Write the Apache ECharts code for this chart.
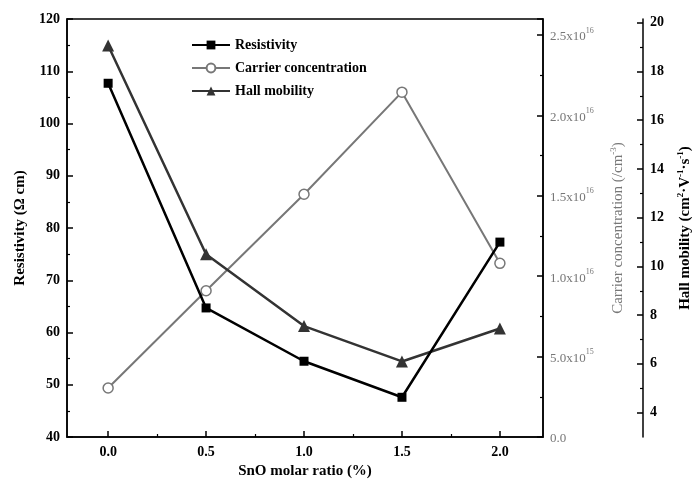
<!DOCTYPE html>
<html>
<head>
<meta charset="utf-8">
<script src="https://cdn.jsdelivr.net/npm/echarts@6/dist/echarts.min.js"></script>
<style>
  html, body { margin: 0; padding: 0; background: #fff; }
  #main { width: 694px; height: 482px; }
</style>
</head>
<body>
<div id="main"></div>
<script>
// SnO molar ratio (%) on x
const ratios = [0, 0.5, 1.0, 1.5, 2.0];
// Resistivity (Ω cm)
const resistivity = [107.7, 64.7, 54.5, 47.6, 77.3];
// Carrier concentration (/cm^3)
const carrier = [3.05e15, 9.1e15, 1.51e16, 2.145e16, 1.08e16];
// Hall mobility (cm2/V/s)
const mobility = [19.06, 10.5, 7.55, 6.1, 7.45];

const xLabels = [0, 0.5, 1.0, 1.5, 2.0];
const xMinor = [0.25, 0.75, 1.25, 1.75];
const hallLabels = [4, 6, 8, 10, 12, 14, 16, 18, 20];
const hallMinor = [5, 7, 9, 11, 13, 15, 17, 19];

const serif = "'Liberation Serif', 'DejaVu Serif', serif";

const chartDom = document.getElementById("main");
const myChart = echarts.init(chartDom);

const pairs = (ys) => ratios.map((x, i) => [x, ys[i]]);

// 2.5x10^16 style labels for the carrier axis
const sciLabel = (v) => {
  if (v === 0) return "{b|0.0}";
  const exp = Math.floor(Math.log10(v));
  const man = (v / Math.pow(10, exp)).toFixed(1);
  return "{b|" + man + "x10}{s|" + exp + "}";
};

const option = {
  backgroundColor: "#fff",
  animation: false,
  textStyle: { fontFamily: serif },
  grid: {
    left: 67, right: 151, top: 19, bottom: 45,
    outerBoundsMode: "none", containLabel: false,
    show: true, borderColor: "#000", borderWidth: 1.5, backgroundColor: "transparent"
  },
  legend: {
    orient: "vertical",
    left: 186, top: 33,
    itemWidth: 38, itemHeight: 11, itemGap: 9,
    textStyle: { fontFamily: serif, fontWeight: "bold", fontSize: 14, color: "#000" },
    data: ["Resistivity", "Carrier concentration", "Hall mobility"]
  },
  xAxis: [
    {
      type: "value", min: -0.21, max: 2.22,
      name: "SnO molar ratio (%)", nameLocation: "middle", nameGap: 27,
      nameTextStyle: { fontFamily: serif, fontWeight: "bold", fontSize: 15, color: "#000" },
      axisLine: { onZero: false, lineStyle: { color: "#000", width: 1.5 } },
      axisTick: { inside: true, length: 6, customValues: xLabels, lineStyle: { color: "#000", width: 1.5 } },
      axisLabel: {
        customValues: xLabels, margin: 8, color: "#000", fontWeight: "bold", fontSize: 14,
        fontFamily: serif, formatter: (v) => v.toFixed(1)
      },
      splitLine: { show: false }
    },
    {
      type: "value", min: -0.21, max: 2.22, position: "bottom",
      axisLine: { show: false, onZero: false },
      axisTick: { inside: true, length: 3, customValues: xMinor, lineStyle: { color: "#000", width: 1.2 } },
      axisLabel: { show: false },
      splitLine: { show: false }
    }
  ],
  yAxis: [
    {
      type: "value", position: "left", min: 40, max: 120, interval: 10,
      name: "Resistivity (Ω cm)", nameLocation: "middle", nameGap: 38, nameRotate: 90,
      nameTextStyle: { fontFamily: serif, fontWeight: "bold", fontSize: 15, color: "#000" },
      axisLine: { show: true, onZero: false, lineStyle: { color: "#000", width: 1.5 } },
      axisTick: { inside: true, length: 6, lineStyle: { color: "#000", width: 1.5 } },
      minorTick: { show: true, splitNumber: 2, length: 3, lineStyle: { color: "#000", width: 1.2 } },
      axisLabel: { color: "#000", fontWeight: "bold", fontSize: 14, fontFamily: serif, margin: 7 },
      splitLine: { show: false }
    },
    {
      type: "value", position: "right", min: 0, max: 2.6e16, interval: 5e15,
      name: "Carrier concentration (/cm{s|-3})", nameLocation: "middle", nameGap: 66, nameRotate: 90,
      nameTextStyle: {
        fontFamily: serif, fontSize: 15, color: "#777",
        rich: { s: { fontSize: 9, color: "#777", verticalAlign: "top", lineHeight: 18 } }
      },
      axisLine: { show: true, onZero: false, lineStyle: { color: "#000", width: 1.5 } },
      axisTick: { inside: true, length: 6, lineStyle: { color: "#000", width: 1.5 } },
      minorTick: { show: true, splitNumber: 2, length: 3, lineStyle: { color: "#000", width: 1.2 } },
      axisLabel: {
        margin: 7, formatter: sciLabel, showMaxLabel: false,
        rich: {
          b: { fontFamily: serif, fontSize: 13, color: "#777", lineHeight: 17, verticalAlign: "bottom" },
          s: { fontFamily: serif, fontSize: 8, color: "#777", lineHeight: 17, verticalAlign: "top" }
        }
      },
      splitLine: { show: false }
    },
    {
      type: "value", position: "right", offset: 100, min: 3, max: 20.15,
      name: "Hall mobility (cm{s|2}·V{s|-1}·s{s|-1})", nameLocation: "middle", nameGap: 33, nameRotate: 90,
      nameTextStyle: {
        fontFamily: serif, fontWeight: "bold", fontSize: 15, color: "#000",
        rich: { s: { fontFamily: serif, fontWeight: "bold", fontSize: 9, color: "#000", verticalAlign: "top", lineHeight: 18 } }
      },
      axisLine: { show: true, onZero: false, lineStyle: { color: "#000", width: 1.5 } },
      axisTick: { inside: true, length: 6, customValues: hallLabels, lineStyle: { color: "#000", width: 1.5 } },
      axisLabel: {
        customValues: hallLabels, color: "#000", fontWeight: "bold", fontSize: 14, fontFamily: serif, margin: 7
      },
      splitLine: { show: false }
    },
    {
      type: "value", position: "right", offset: 100, min: 3, max: 20.15,
      axisLine: { show: false, onZero: false },
      axisTick: { show: true, inside: true, length: 3, customValues: hallMinor, lineStyle: { color: "#000", width: 1.2 } },
      axisLabel: { show: false },
      splitLine: { show: false }
    }
  ],
  series: [
    {
      name: "Resistivity", type: "line", xAxisIndex: 0, yAxisIndex: 0,
      data: pairs(resistivity),
      symbol: "rect", symbolSize: 9,
      lineStyle: { color: "#000", width: 2.5 },
      itemStyle: { color: "#000" }, z: 4
    },
    {
      name: "Carrier concentration", type: "line", xAxisIndex: 0, yAxisIndex: 1,
      data: pairs(carrier),
      symbol: "circle", symbolSize: 10, showSymbol: true,
      lineStyle: { color: "#777", width: 2 },
      itemStyle: { color: "#fff", borderColor: "#777", borderWidth: 1.5 }, z: 3
    },
    {
      name: "Hall mobility", type: "line", xAxisIndex: 0, yAxisIndex: 2,
      data: pairs(mobility),
      symbol: "triangle", symbolSize: 12,
      lineStyle: { color: "#333", width: 2.5 },
      itemStyle: { color: "#333" }, z: 3
    }
  ]
};

option && myChart.setOption(option);
</script>
</body>
</html>
